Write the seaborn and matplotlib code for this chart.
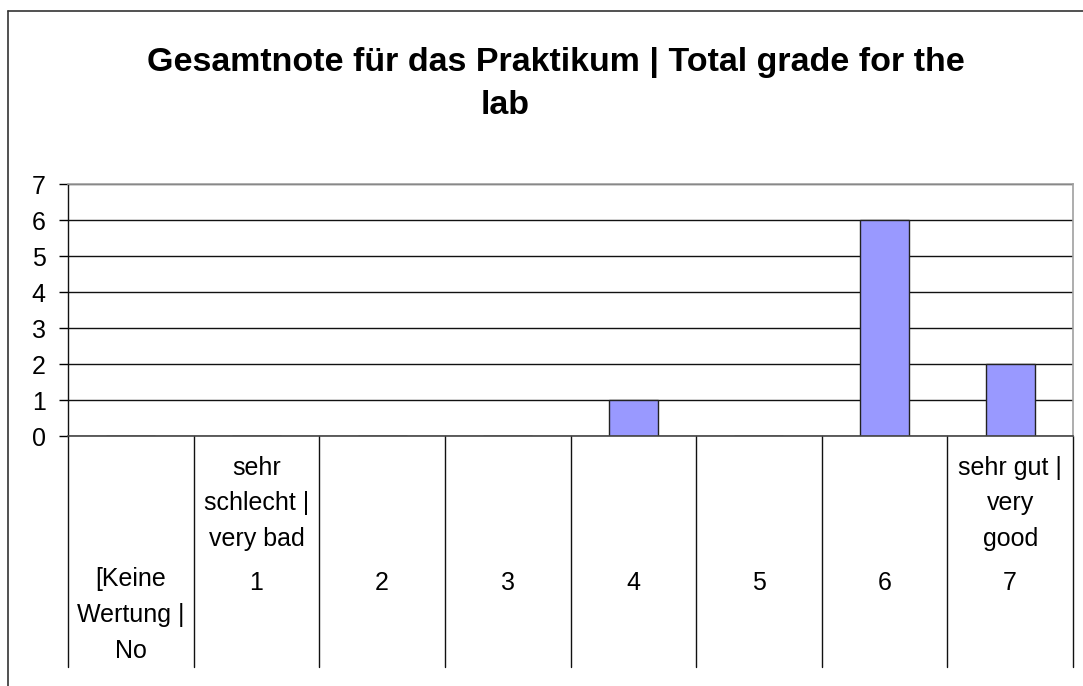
import matplotlib
matplotlib.use("Agg")
import matplotlib.pyplot as plt
import matplotlib.transforms as mtransforms
from matplotlib.lines import Line2D
import seaborn as sns

# data
categories = ["[Keine Wertung | No answer]", "1", "2", "3", "4", "5", "6", "7"]
values = [0, 0, 0, 0, 1, 0, 6, 2]
number_labels = ["[Keine\nWertung |\nNo", "1", "2", "3", "4", "5", "6", "7"]
upper_labels = ["", "sehr\nschlecht |\nvery bad", "", "", "", "", "", "sehr gut |\nvery\ngood"]
y_ticks = [0, 1, 2, 3, 4, 5, 6, 7]

sns.set_style("white")
plt.rcParams['font.family'] = ['Liberation Sans', 'DejaVu Sans']
plt.rcParams['text.color'] = 'black'
plt.rcParams['ytick.color'] = 'black'
plt.rcParams['ytick.labelcolor'] = 'black'

fig = plt.figure(figsize=(10.83, 6.86), dpi=100)
ax = fig.add_axes([68 / 1083, 1 - 436 / 686, (1073 - 68) / 1083, (436 - 184) / 686])

sns.barplot(x=categories, y=values, order=categories, color="#9999FF", saturation=1,
            width=0.39, edgecolor="#222222", linewidth=1.0, ax=ax)

ax.set_xlim(-0.5, len(categories) - 0.5)
ax.set_ylim(0, 7)
ax.set_yticks(y_ticks)
ax.set_yticklabels([str(t) for t in y_ticks], fontsize=18)
ax.tick_params(axis='y', direction='out', length=6.5, width=1, pad=9.5, colors='black', left=True)
ax.set_xticks([])
ax.set_xlabel("")
ax.set_ylabel("")
ax.yaxis.grid(True, color="#111111", linewidth=1.0)
ax.set_axisbelow(True)

for side in ["top", "right"]:
    ax.spines[side].set_color("#a0a0a0")
    ax.spines[side].set_linewidth(1.2)
ax.spines["left"].set_color("#111111")
ax.spines["bottom"].set_color("#444444")
ax.spines["left"].set_linewidth(1.0)
ax.spines["bottom"].set_linewidth(1.2)

# category separators running down through the label area
trans = mtransforms.blended_transform_factory(ax.transData, ax.transAxes)
for i in range(len(categories) + 1):
    ax.plot([i - 0.5, i - 0.5], [0, -0.917], transform=trans, color="#111111",
            linewidth=1.0, clip_on=False)

# category labels
for i, lab in enumerate(number_labels):
    y = -0.881 if "\n" in lab else -0.611
    ax.text(i, y, lab, transform=trans, ha='center', va='baseline', fontsize=18,
            linespacing=1.62)
for i, lab in enumerate(upper_labels):
    if lab:
        ax.text(i, -0.437, lab, transform=trans, ha='center', va='baseline', fontsize=18,
                linespacing=1.62)

# title, wrapped as in the source chart
fig.text(556 / 1083, 1 - 62 / 686, "Gesamtnote für das Praktikum | Total grade for the",
         ha='center', va='center', fontsize=24.5, fontweight='bold')
fig.text(505 / 1083, 1 - 105 / 686, "lab", ha='center', va='center', fontsize=24.5,
         fontweight='bold')

# outer chart frame (top and left edges)
fig.add_artist(Line2D([8 / 1083, 8 / 1083], [0, 1 - 11 / 686], transform=fig.transFigure,
                      color="#333333", linewidth=1.2))
fig.add_artist(Line2D([8 / 1083, 1], [1 - 11 / 686, 1 - 11 / 686], transform=fig.transFigure,
                      color="#333333", linewidth=1.2))

fig.savefig("out.png", dpi=100)
